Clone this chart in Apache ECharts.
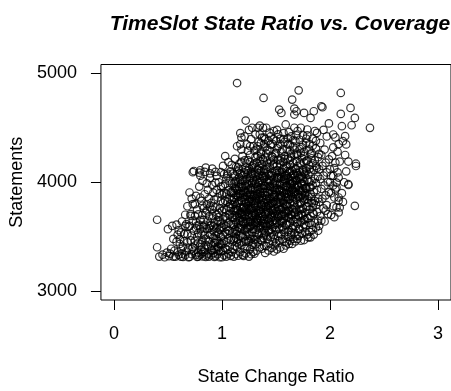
<!DOCTYPE html>
<html>
<head>
<meta charset="utf-8">
<script src="https://cdn.jsdelivr.net/npm/echarts@6/dist/echarts.min.js"></script>
<style>
html,body{margin:0;padding:0;background:#fff}
#chart{width:451px;height:391px}
</style>
</head>
<body>
<div id="chart"></div>
<script>
// Tick positions and labels
const xTicks = [0, 1, 2, 3];
const yTicks = [3000, 4000, 5000];

// [state change ratio, statements], grouped by ratio band
const band040 = [[0.40,3656],[0.40,3404],[0.42,3318],[0.45,3336],[0.47,3312],[0.50,3570],[0.54,3600],[0.52,3345],[0.55,3318],[0.57,3318],[0.56,3372],[0.58,3455],[0.59,3358],[0.53,3390],[0.51,3322],[0.58,3612],[0.55,3480],[0.49,3355],[0.59,3520]];
const band060 = [[0.61,3434],[0.62,3388],[0.62,3318],[0.64,3315],[0.65,3525],[0.66,3600],[0.67,3616],[0.68,3449],[0.68,3525],[0.60,3560],[0.63,3345],[0.66,3330],[0.69,3312],[0.61,3478],[0.64,3410],[0.67,3365],[0.69,3590],[0.63,3640],[0.66,3702],[0.68,3780],[0.65,3460],[0.60,3335],[0.69,3395],[0.62,3540]];
const band070 = [[0.70,3906],[0.71,3708],[0.71,3692],[0.73,3647],[0.73,3799],[0.74,4103],[0.75,3800],[0.76,3875],[0.76,3632],[0.73,4092],[0.79,4088],[0.77,3315],[0.70,3315],[0.72,3340],[0.74,3372],[0.75,3420],[0.78,3355],[0.79,3330],[0.71,3466],[0.72,3510],[0.74,3556],[0.77,3498],[0.78,3445],[0.76,3580],[0.79,3610],[0.78,3705],[0.77,3750],[0.75,3690],[0.72,3850],[0.79,3960],[0.78,3318],[0.73,3402],[0.76,3336],[0.70,3600]];
const band080 = [[0.80,3860],[0.80,4110],[0.82,3785],[0.82,4012],[0.80,4060],[0.85,4134],[0.84,4095],[0.89,4081],[0.89,4040],[0.85,3315],[0.82,3320],[0.81,3345],[0.83,3362],[0.86,3330],[0.88,3318],[0.84,3390],[0.87,3410],[0.80,3430],[0.82,3466],[0.85,3482],[0.88,3455],[0.81,3520],[0.83,3548],[0.86,3572],[0.89,3520],[0.84,3610],[0.87,3640],[0.80,3655],[0.82,3700],[0.85,3720],[0.88,3690],[0.83,3760],[0.86,3800],[0.89,3770],[0.81,3830],[0.84,3890],[0.87,3930],[0.88,3850],[0.86,3990],[0.83,3595],[0.89,3600],[0.87,3345],[0.81,3380],[0.85,3425]];
const band090 = [[0.94,4095],[0.95,4058],[0.97,4000],[0.99,4092],[0.91,4125],[0.93,3315],[0.90,3330],[0.92,3350],[0.94,3322],[0.96,3340],[0.98,3312],[0.91,3372],[0.95,3388],[0.97,3402],[0.99,3365],[0.90,3420],[0.93,3445],[0.96,3460],[0.98,3440],[0.92,3490],[0.94,3510],[0.97,3530],[0.99,3500],[0.91,3560],[0.95,3580],[0.98,3566],[0.90,3610],[0.93,3632],[0.96,3650],[0.99,3620],[0.92,3690],[0.95,3705],[0.97,3720],[0.91,3750],[0.94,3770],[0.98,3760],[0.90,3810],[0.93,3840],[0.96,3860],[0.99,3830],[0.92,3905],[0.95,3930],[0.98,3900],[0.91,3975],[0.94,3996],[0.99,3960],[0.96,3545],[0.92,3595],[0.97,3680],[0.93,3390],[0.99,3430],[0.95,3470]];
const band100 = [[1.03,4240],[1.05,4060],[1.05,4080],[1.08,4100],[1.01,4150],[1.06,4185],[1.00,3312],[1.02,3330],[1.04,3318],[1.06,3345],[1.08,3325],[1.01,3370],[1.03,3395],[1.05,3380],[1.07,3410],[1.09,3362],[1.00,3440],[1.02,3462],[1.04,3450],[1.06,3485],[1.08,3470],[1.01,3515],[1.03,3540],[1.05,3525],[1.07,3555],[1.09,3530],[1.00,3590],[1.02,3610],[1.04,3595],[1.06,3630],[1.08,3615],[1.01,3660],[1.03,3685],[1.05,3670],[1.07,3700],[1.09,3680],[1.00,3735],[1.02,3755],[1.04,3745],[1.06,3775],[1.08,3760],[1.01,3810],[1.03,3830],[1.05,3820],[1.07,3850],[1.09,3835],[1.00,3885],[1.02,3905],[1.04,3895],[1.06,3925],[1.08,3910],[1.01,3965],[1.03,3985],[1.07,4010],[1.09,3990],[1.04,4035],[1.09,4160],[1.02,4075]];
const band110 = [[1.14,4910],[1.17,4450],[1.18,4410],[1.17,4350],[1.18,4300],[1.14,4330],[1.10,4080],[1.12,4215],[1.16,4170],[1.19,4240],[1.11,3318],[1.13,3342],[1.15,3326],[1.17,3360],[1.19,3334],[1.10,3388],[1.12,3415],[1.14,3402],[1.16,3437],[1.18,3421],[1.11,3466],[1.13,3490],[1.15,3478],[1.17,3508],[1.19,3494],[1.10,3540],[1.12,3566],[1.14,3552],[1.16,3583],[1.18,3570],[1.11,3612],[1.13,3634],[1.15,3622],[1.17,3650],[1.19,3641],[1.10,3676],[1.12,3698],[1.14,3688],[1.16,3712],[1.18,3705],[1.11,3735],[1.13,3756],[1.15,3744],[1.17,3771],[1.19,3762],[1.10,3795],[1.12,3818],[1.14,3806],[1.16,3833],[1.18,3825],[1.11,3858],[1.13,3880],[1.15,3868],[1.17,3895],[1.19,3887],[1.10,3922],[1.12,3945],[1.14,3931],[1.16,3958],[1.18,3950],[1.11,3988],[1.13,4010],[1.15,3998],[1.17,4026],[1.19,4017],[1.12,4060],[1.14,4098],[1.16,4115],[1.18,4072],[1.13,4140],[1.15,3585],[1.17,3720],[1.11,3840],[1.13,3960],[1.19,3700]];
const band120 = [[1.22,4566],[1.23,4347],[1.28,4500],[1.25,4480],[1.21,4420],[1.27,4395],[1.24,4290],[1.29,4330],[1.26,4250],[1.21,4200],[1.20,3325],[1.22,3348],[1.25,3318],[1.27,3340],[1.29,3362],[1.21,3392],[1.23,3410],[1.26,3385],[1.28,3428],[1.20,3452],[1.24,3466],[1.27,3481],[1.29,3447],[1.22,3508],[1.25,3526],[1.28,3542],[1.21,3563],[1.23,3579],[1.26,3595],[1.29,3571],[1.20,3618],[1.24,3632],[1.27,3648],[1.22,3667],[1.25,3684],[1.28,3699],[1.21,3712],[1.23,3729],[1.26,3745],[1.29,3722],[1.20,3770],[1.24,3783],[1.27,3798],[1.22,3815],[1.25,3832],[1.28,3848],[1.21,3863],[1.23,3879],[1.26,3894],[1.29,3871],[1.20,3918],[1.24,3932],[1.27,3948],[1.22,3964],[1.25,3981],[1.28,3997],[1.21,4012],[1.23,4028],[1.26,4043],[1.29,4020],[1.20,4066],[1.24,4082],[1.27,4097],[1.22,4113],[1.25,4130],[1.28,4146],[1.23,4172],[1.26,4188],[1.29,4160],[1.21,3742],[1.27,3752],[1.24,3580],[1.26,3845],[1.22,3910],[1.28,3620],[1.25,3455],[1.29,3770]];
const band130 = [[1.385,4773],[1.33,4500],[1.38,4500],[1.35,4520],[1.31,4440],[1.37,4410],[1.34,4370],[1.39,4350],[1.32,4300],[1.36,4280],[1.30,3345],[1.32,3372],[1.35,3404],[1.37,3390],[1.39,3418],[1.31,3430],[1.33,3452],[1.36,3470],[1.38,3488],[1.30,3505],[1.34,3522],[1.37,3540],[1.39,3512],[1.32,3562],[1.35,3580],[1.38,3596],[1.31,3612],[1.33,3628],[1.36,3644],[1.39,3660],[1.30,3675],[1.34,3690],[1.37,3706],[1.32,3721],[1.35,3737],[1.38,3752],[1.31,3768],[1.33,3782],[1.36,3798],[1.39,3812],[1.30,3828],[1.34,3843],[1.37,3858],[1.32,3874],[1.35,3889],[1.38,3904],[1.31,3920],[1.33,3934],[1.36,3950],[1.39,3965],[1.30,3980],[1.34,3995],[1.37,4011],[1.32,4026],[1.35,4041],[1.38,4056],[1.31,4072],[1.33,4087],[1.36,4102],[1.39,4118],[1.30,4133],[1.34,4148],[1.37,4164],[1.32,4180],[1.35,4196],[1.38,4212],[1.31,4230],[1.33,4245],[1.36,4262],[1.39,4190],[1.31,3700],[1.37,3790],[1.34,3860],[1.36,3720],[1.33,3655],[1.38,3940],[1.30,3880],[1.35,3610],[1.39,3560],[1.32,3478],[1.37,4060],[1.34,4115]];
const band140 = [[1.41,4500],[1.48,4470],[1.45,4420],[1.43,4380],[1.47,4350],[1.40,4320],[1.44,4290],[1.49,4260],[1.40,3352],[1.43,3375],[1.46,3398],[1.48,3365],[1.41,3415],[1.44,3438],[1.47,3455],[1.49,3420],[1.42,3478],[1.45,3496],[1.48,3515],[1.40,3532],[1.43,3550],[1.46,3568],[1.49,3585],[1.41,3602],[1.44,3620],[1.47,3638],[1.42,3655],[1.45,3672],[1.48,3690],[1.40,3708],[1.43,3725],[1.46,3742],[1.49,3760],[1.41,3776],[1.44,3794],[1.47,3811],[1.42,3828],[1.45,3846],[1.48,3863],[1.40,3880],[1.43,3897],[1.46,3915],[1.49,3932],[1.41,3948],[1.44,3966],[1.47,3983],[1.42,4000],[1.45,4018],[1.48,4035],[1.40,4052],[1.43,4070],[1.46,4087],[1.49,4104],[1.41,4120],[1.44,4138],[1.47,4155],[1.42,4172],[1.45,4190],[1.48,4208],[1.40,4225],[1.46,4240],[1.43,3990],[1.47,3720],[1.41,3840],[1.49,3880],[1.44,3560],[1.42,3750],[1.48,3950],[1.45,3610],[1.46,3810],[1.40,3620]];
const band150 = [[1.53,4667],[1.55,4636],[1.59,4530],[1.51,4480],[1.57,4450],[1.54,4400],[1.58,4370],[1.52,4330],[1.56,4300],[1.50,4270],[1.51,3385],[1.54,3402],[1.57,3390],[1.59,3420],[1.50,3440],[1.53,3462],[1.56,3478],[1.58,3455],[1.52,3505],[1.55,3522],[1.58,3540],[1.50,3558],[1.53,3575],[1.56,3593],[1.59,3610],[1.51,3627],[1.54,3645],[1.57,3662],[1.52,3680],[1.55,3697],[1.58,3715],[1.50,3732],[1.53,3750],[1.56,3767],[1.59,3785],[1.51,3802],[1.54,3820],[1.57,3837],[1.52,3855],[1.55,3872],[1.58,3890],[1.50,3907],[1.53,3925],[1.56,3942],[1.59,3960],[1.51,3977],[1.54,3995],[1.57,4012],[1.52,4030],[1.55,4047],[1.58,4065],[1.50,4082],[1.53,4100],[1.56,4117],[1.59,4135],[1.51,4152],[1.54,4170],[1.57,4187],[1.52,4205],[1.55,4222],[1.58,4240],[1.56,3985],[1.58,4020],[1.54,3930],[1.59,3870],[1.51,3710],[1.57,3760],[1.53,4040],[1.55,3640]];
const band160 = [[1.65,4758],[1.67,4676],[1.69,4651],[1.67,4621],[1.67,4500],[1.62,4460],[1.64,4420],[1.68,4380],[1.61,4350],[1.66,4330],[1.63,4290],[1.69,4260],[1.62,3434],[1.65,3434],[1.64,3540],[1.60,3448],[1.63,3465],[1.66,3480],[1.68,3458],[1.61,3500],[1.64,3518],[1.67,3535],[1.69,3510],[1.62,3560],[1.65,3578],[1.68,3595],[1.60,3612],[1.63,3630],[1.66,3648],[1.69,3665],[1.61,3682],[1.64,3700],[1.67,3718],[1.62,3736],[1.65,3753],[1.68,3771],[1.60,3789],[1.63,3806],[1.66,3824],[1.69,3842],[1.61,3860],[1.64,3877],[1.67,3895],[1.62,3913],[1.65,3930],[1.68,3948],[1.60,3966],[1.63,3983],[1.66,4001],[1.69,4019],[1.61,4037],[1.64,4054],[1.67,4072],[1.62,4090],[1.65,4107],[1.68,4125],[1.60,4143],[1.63,4160],[1.66,4178],[1.69,4196],[1.61,4214],[1.64,4232],[1.67,4250],[1.63,4010],[1.65,3990],[1.61,3950],[1.67,3975],[1.64,3905]];
const band170 = [[1.71,4843],[1.76,4636],[1.73,4500],[1.79,4484],[1.75,4430],[1.72,4390],[1.78,4360],[1.74,4320],[1.76,4280],[1.70,4250],[1.73,3464],[1.70,3480],[1.76,3470],[1.71,3510],[1.74,3528],[1.77,3545],[1.79,3520],[1.72,3568],[1.75,3585],[1.78,3602],[1.70,3620],[1.73,3638],[1.76,3655],[1.79,3672],[1.71,3690],[1.74,3707],[1.77,3725],[1.72,3742],[1.75,3760],[1.78,3778],[1.70,3795],[1.73,3813],[1.76,3830],[1.79,3848],[1.71,3865],[1.74,3883],[1.77,3900],[1.72,3918],[1.75,3936],[1.78,3953],[1.70,3971],[1.73,3988],[1.76,4006],[1.79,4024],[1.71,4041],[1.74,4059],[1.77,4077],[1.72,4094],[1.75,4112],[1.78,4130],[1.70,4147],[1.73,4165],[1.76,4183],[1.79,4200],[1.74,4220],[1.71,3960],[1.77,3880]];
const band180 = [[1.85,4651],[1.82,4590],[1.88,4453],[1.84,4400],[1.81,4350],[1.87,4310],[1.83,4270],[1.89,4230],[1.86,4200],[1.80,3495],[1.82,3495],[1.89,3555],[1.85,3520],[1.81,3545],[1.84,3565],[1.87,3585],[1.83,3610],[1.86,3630],[1.89,3648],[1.80,3668],[1.82,3690],[1.85,3710],[1.88,3728],[1.81,3750],[1.84,3770],[1.87,3790],[1.83,3810],[1.86,3830],[1.89,3850],[1.80,3870],[1.82,3892],[1.85,3912],[1.88,3930],[1.81,3952],[1.84,3972],[1.87,3992],[1.83,4012],[1.86,4032],[1.89,4052],[1.80,4072],[1.82,4094],[1.85,4114],[1.88,4132],[1.81,4154],[1.84,4174],[1.87,4150],[1.83,4220]];
const band190 = [[1.92,4697],[1.93,4688],[1.92,3647],[1.90,3600],[1.95,3640],[1.98,3708],[1.96,3740],[1.91,3690],[1.94,3760],[1.97,3790],[1.90,3820],[1.93,3850],[1.96,3880],[1.99,3910],[1.92,3940],[1.95,3970],[1.98,4000],[1.91,4030],[1.94,4060],[1.97,4090],[1.90,4120],[1.93,4150],[1.96,4180],[1.99,4210],[1.92,4250],[1.95,4300],[1.91,4360],[1.97,4420],[1.94,4480],[1.99,4540]];
const band200 = [[2.00,4119],[2.02,4240],[2.03,4058],[2.05,4180],[2.05,3936],[2.06,3997],[2.06,3769],[2.08,3830],[2.08,3860],[2.09,3769],[2.08,3723],[2.08,4043],[2.06,3952],[2.03,4438],[2.05,4411],[2.08,4350],[2.01,3700],[2.03,3780],[2.04,3860],[2.01,3900],[2.03,3970],[2.07,4090],[2.04,4130],[2.01,4060],[2.07,4280],[2.03,4320],[2.09,4190],[2.00,4000],[2.04,3680]];
const band210 = [[2.10,4819],[2.10,4627],[2.19,4682],[2.23,4590],[2.11,4514],[2.20,4523],[2.37,4499],[2.14,4423],[2.12,4377],[2.15,4347],[2.17,4190],[2.24,4170],[2.24,4149],[2.17,3982],[2.17,3975],[2.23,3784],[2.11,3900],[2.13,4000],[2.15,4100],[2.12,3820],[2.14,4250]];
const bandUpper = [[1.30,4290],[1.33,4330],[1.36,4360],[1.39,4410],[1.42,4300],[1.45,4345],[1.48,4395],[1.51,4310],[1.54,4350],[1.57,4395],[1.60,4300],[1.63,4340],[1.66,4385],[1.69,4430],[1.72,4305],[1.75,4345],[1.78,4400],[1.81,4300],[1.84,4335],[1.87,4380],[1.90,4260],[1.35,4440],[1.44,4455],[1.52,4440],[1.61,4405],[1.70,4470],[1.79,4430],[1.86,4470],[1.26,4330],[1.41,4265],[1.55,4275],[1.64,4260],[1.73,4270],[1.82,4255],[1.47,4230],[1.58,4215],[1.67,4300],[1.76,4240],[1.40,4395],[1.50,4380]];
const bandCore = [[1.07,3712],[1.09,3903],[1.12,3655],[1.13,3787],[1.15,3921],[1.16,4044],[1.18,3603],[1.19,3858],[1.21,3691],[1.22,3805],[1.23,3987],[1.24,4107],[1.26,3637],[1.27,3884],[1.28,3762],[1.29,4071],[1.31,3811],[1.32,3663],[1.33,3957],[1.34,3742],[1.35,4009],[1.36,3596],[1.37,3872],[1.38,3689],[1.39,4037],[1.41,3731],[1.42,3914],[1.43,3642],[1.44,3853],[1.45,3768],[1.46,4063],[1.47,3587],[1.48,3819],[1.49,3706],[1.51,3941],[1.52,3776],[1.53,3623],[1.54,4081],[1.55,3852],[1.56,3709],[1.57,3966],[1.58,3801],[1.59,4058],[1.61,3735],[1.62,3891],[1.63,4102],[1.64,3667],[1.65,3943],[1.66,4071],[1.67,3812],[1.68,4018],[1.69,3748],[1.71,3927],[1.72,4049],[1.73,3702],[1.74,3985],[1.75,3858],[1.76,4091],[1.77,3661],[1.78,3942],[1.79,3777],[1.81,4003],[1.83,3866],[1.84,3719],
  [1.06,3556],[1.08,3802],[1.10,3611],[1.11,3902],[1.13,3527],[1.14,3744],[1.16,3894],[1.17,3578],[1.19,3959],[1.20,3686],[1.21,3842],[1.23,3545],[1.24,3904],[1.25,3763],[1.27,3602],[1.28,3929],[1.30,3717],[1.31,3988],[1.32,3843],[1.34,3576],[1.35,3908],[1.36,3751],[1.38,3835],[1.39,3621],[1.40,3967],[1.42,3594],[1.43,3783],[1.44,4011],[1.46,3683],[1.47,3892],[1.49,3653],[1.50,3829],[1.51,4046],[1.53,3694],[1.54,3879],[1.56,3626],[1.57,3908],[1.59,3741],[1.60,3894],[1.62,3676],[1.63,3844],[1.65,3702],[1.66,3911],[1.68,3633],[1.69,3889],[1.70,4063],[1.72,3803],[1.73,3918],[1.75,3692],[1.77,3948],[1.78,4104],[1.80,3811],[1.82,3955],[1.85,3806],
  [1.12,4003],[1.15,4137],[1.18,4186],[1.21,4091],[1.24,4203],[1.27,4058],[1.30,4172],[1.33,4119],[1.36,4227],[1.39,4086],[1.42,4143],[1.45,4061],[1.48,4167],[1.51,4109],[1.54,4198],[1.57,4127],[1.60,4063],[1.63,4204],[1.66,4133],[1.69,4087],[1.72,4179],[1.75,4033],[1.78,4196],[1.81,4121],
  [1.11,3483],[1.14,3449],[1.18,3521],[1.22,3458],[1.26,3507],[1.30,3471],[1.33,3534],[1.37,3463],[1.41,3512],[1.45,3539],[1.49,3478],[1.53,3523],[1.57,3566],[1.61,3547],[1.66,3594],[1.71,3573],[1.76,3612],[1.81,3627],
  [1.205,3774],[1.235,3867],[1.265,3942],[1.295,3801],[1.325,3893],[1.355,3668],[1.385,3786],[1.415,3872],[1.445,3959],[1.475,3747],[1.505,3883],[1.535,3978],[1.565,3814],[1.595,3927],[1.625,4026],[1.655,3861],[1.215,3977],[1.245,3706],[1.275,3829],[1.305,3947],[1.335,3712],[1.365,3833],[1.395,3912],[1.425,3697],[1.455,3801],[1.485,3994],[1.515,3733],[1.545,3862],[1.575,4031],[1.605,3779],[1.635,3952],[1.665,4039],[1.185,3727],[1.155,3812],[1.125,3735],[1.695,3968],[1.725,3866],[1.755,3981],
  [1.165,3671],[1.195,3903],[1.225,3632],[1.255,4012],[1.285,3693],[1.315,3858],[1.345,4067],[1.375,3624],[1.405,3779],[1.435,4021],[1.465,3866],[1.495,3611],[1.525,3928],[1.555,4092],[1.585,3688],[1.615,3837],[1.645,3986],[1.675,3724],[1.705,3889],[1.735,4036],[1.175,3988],[1.245,3818],[1.315,3642],[1.385,3968],[1.455,3702],[1.525,3811],[1.595,3732],[1.665,3796],[1.735,3753],[1.195,3642],[1.275,4079],[1.355,3936],[1.435,3666],[1.515,4069],[1.595,3861],[1.675,3912],[1.145,3879],[1.225,3759],[1.305,3626],[1.365,3777],[1.425,3808],[1.485,3883],[1.545,3754],[1.605,4103],[1.655,4016],[1.705,3701],[1.765,3843],[1.165,4083],[1.255,3588],[1.335,3994],[1.415,4092],[1.495,3949],[1.565,3643],[1.635,3707],[1.685,4121],[1.745,3916]];
const bandLeft = [[0.72,3388],[0.75,3462],[0.78,3534],[0.81,3407],[0.84,3513],[0.87,3468],[0.90,3376],[0.93,3544],[0.96,3412],[0.99,3581],[0.83,3653],[0.88,3577],[0.91,3668],[0.94,3443],[0.97,3369],[0.86,3742],[0.92,3782],[0.98,3639],[0.77,3602],[0.80,3571]];

const points = [].concat(band040, band060, band070, band080, band090, band100, band110,
  band120, band130, band140, band150, band160, band170, band180, band190, band200, band210,
  bandUpper, bandCore, bandLeft);

const FONT = "'Liberation Sans', Arial, Helvetica, sans-serif";
const chart = echarts.init(document.getElementById('chart'), null, { renderer: 'canvas' });

chart.setOption({
  animation: false,
  backgroundColor: '#ffffff',
  title: {
    text: 'TimeSlot State Ratio vs. Coverage',
    left: 275, top: 9, textAlign: 'center',
    textStyle: { fontFamily: FONT, fontSize: 21, fontWeight: 'bold', fontStyle: 'italic', color: '#000' }
  },
  grid: {
    left: 97, top: 64.5, width: 356, height: 236.5,
    show: true, borderColor: '#000', borderWidth: 1, backgroundColor: 'transparent'
  },
  xAxis: {
    type: 'value', min: -0.12, max: 3.12,
    name: 'State Change Ratio', nameLocation: 'middle', nameGap: 68,
    nameTextStyle: { fontFamily: FONT, fontSize: 18, color: '#000' },
    axisLine: { show: false, onZero: false },
    axisTick: { show: true, inside: false, length: 10, customValues: xTicks, lineStyle: { color: '#000', width: 1 } },
    axisLabel: { customValues: xTicks, margin: 25, fontFamily: FONT, fontSize: 18, color: '#000', formatter: v => String(v) },
    splitLine: { show: false }
  },
  yAxis: {
    type: 'value', min: 2920, max: 5080,
    name: 'Statements', nameLocation: 'middle', nameGap: 67, nameRotate: 90,
    nameTextStyle: { fontFamily: FONT, fontSize: 18, color: '#000' },
    axisLine: { show: false, onZero: false },
    axisTick: { show: true, inside: false, length: 10, customValues: yTicks, lineStyle: { color: '#000', width: 1 } },
    axisLabel: { customValues: yTicks, margin: 24, fontFamily: FONT, fontSize: 18, color: '#000', formatter: v => String(v) },
    splitLine: { show: false }
  },
  series: [{
    type: 'scatter',
    data: points,
    symbol: 'circle',
    symbolSize: 7.5,
    itemStyle: { color: 'rgba(0,0,0,0)', borderColor: '#000', borderWidth: 1.2 },
    emphasis: { disabled: true },
    silent: true
  }]
});
</script>
</body>
</html>
